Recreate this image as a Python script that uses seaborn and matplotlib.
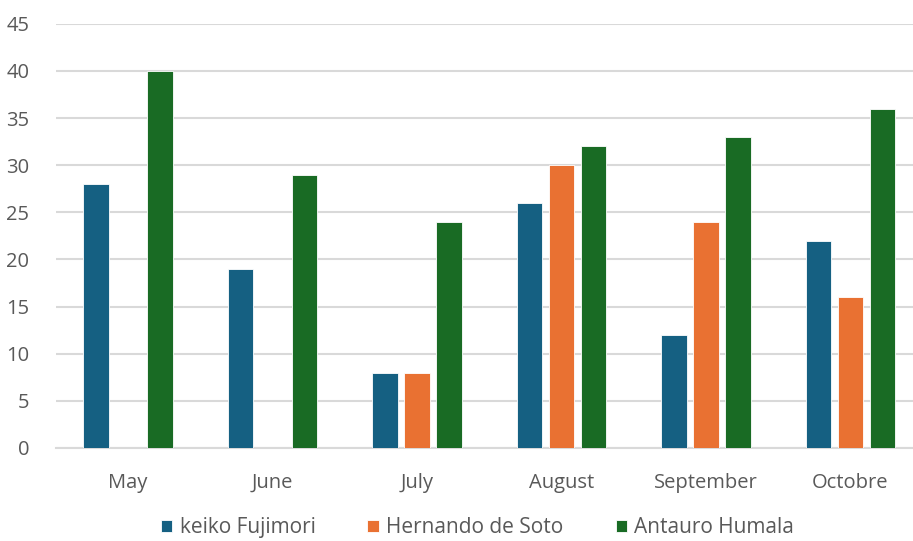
import numpy as np
import pandas as pd
import matplotlib
matplotlib.use("Agg")
import matplotlib.pyplot as plt
import seaborn as sns

months = ["May", "June", "July", "August", "September", "Octobre"]
keiko = [28, 19, 8, 26, 12, 22]
hernando = [0, 0, 8, 30, 24, 16]
antauro = [40, 29, 24, 32, 33, 36]
series_names = ["keiko Fujimori", "Hernando de Soto", "Antauro Humala"]
colors = ["#156082", "#E97132", "#196B24"]
y_ticks = [0, 5, 10, 15, 20, 25, 30, 35, 40, 45]

df = pd.DataFrame({
    "month": months * 3,
    "value": keiko + hernando + antauro,
    "candidate": sum([[n] * len(months) for n in series_names], []),
})

sns.set_theme(style="white")
plt.rcParams["font.family"] = ["Open Sans", "DejaVu Sans"]

fig = plt.figure(figsize=(9.13, 5.41), dpi=100)
ax = fig.add_axes([0.061, 0.172, 0.9496, 0.784])

sns.barplot(data=df, x="month", y="value", hue="candidate", order=months,
            hue_order=series_names, palette=colors, saturation=1,
            width=0.664, gap=0.21, edgecolor="white", linewidth=0.6,
            ax=ax, zorder=3)

ax.set_ylim(0, 45)
ax.set_xlim(-0.5, len(months) - 0.5)
ax.set_yticks(y_ticks)
ax.yaxis.grid(True, color="#D9D9D9", linewidth=1.5, zorder=0)
ax.set_axisbelow(True)
for side in ["top", "right", "left"]:
    ax.spines[side].set_visible(False)
ax.spines["bottom"].set_color("#D9D9D9")
ax.spines["bottom"].set_linewidth(1.5)
ax.tick_params(axis="both", length=0, labelsize=14.5, labelcolor="#595959")
ax.tick_params(axis="y", pad=19)
ax.tick_params(axis="x", pad=18)
ax.set_xlabel("")
ax.set_ylabel("")

handles, labels = ax.get_legend_handles_labels()
ax.legend_.remove()
fig.legend(handles, labels, loc="lower center", ncol=3, frameon=False,
           bbox_to_anchor=(0.523, -0.03), fontsize=15, labelcolor="#595959",
           handlelength=0.55, handleheight=0.55, handletextpad=0.35,
           columnspacing=2.5)

fig.savefig("out.png", dpi=100)
